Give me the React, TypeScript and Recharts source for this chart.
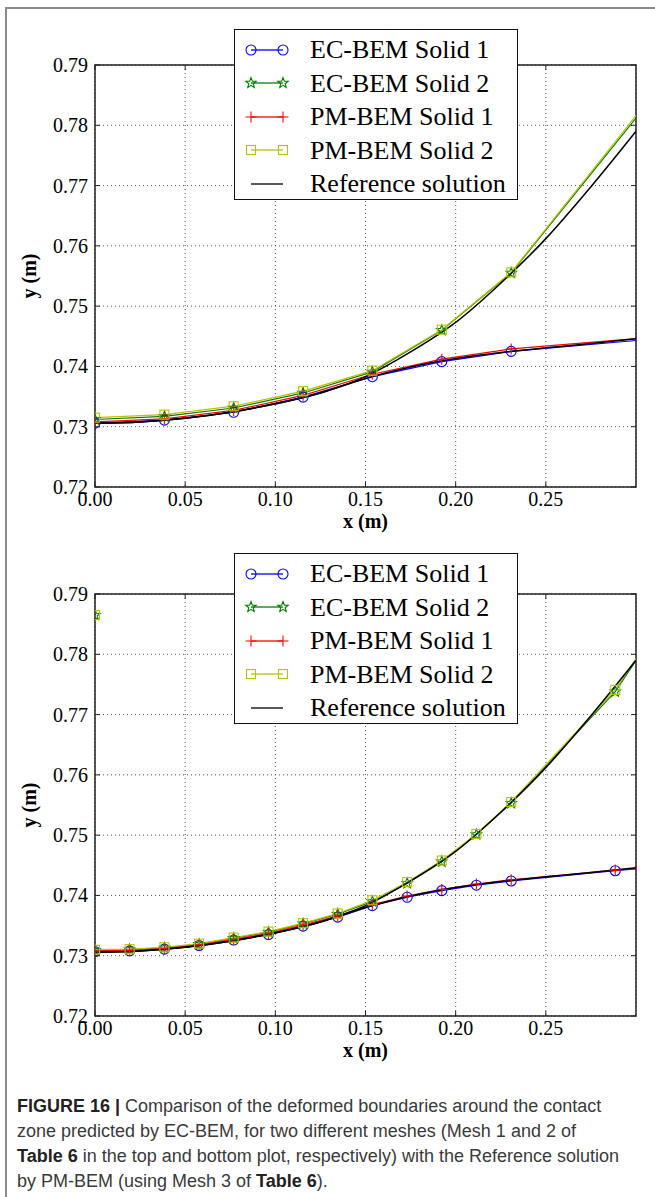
import React from "react";
import {
  ComposedChart,
  Line,
  Scatter,
  XAxis,
  YAxis,
  CartesianGrid,
  ReferenceArea,
} from "recharts";

// axis ticks
const X_TICKS = [0, 0.05, 0.1, 0.15, 0.2, 0.25];
const Y_TICKS = [0.72, 0.73, 0.74, 0.75, 0.76, 0.77, 0.78, 0.79];

// Mesh 1 (top plot) - last vertex has no marker
const MESH1_X = [0, 0.0385, 0.0769, 0.1154, 0.1538, 0.1923, 0.2308, 0.3];
const MESH1_EC_S1 = [0.7306, 0.7311, 0.7324, 0.7349, 0.7383, 0.7408, 0.7425, 0.7443];
const MESH1_EC_S2 = [0.7312, 0.7317, 0.7331, 0.7356, 0.7391, 0.746, 0.7555, 0.7812];
const MESH1_PM_S1 = [0.7308, 0.7313, 0.7327, 0.7352, 0.7387, 0.7412, 0.7429, 0.7446];
const MESH1_PM_S2 = [0.7315, 0.732, 0.7334, 0.7359, 0.7393, 0.7461, 0.7556, 0.7816];

// Mesh 2 (bottom plot) - last vertex has no marker
const MESH2_X = [
  0, 0.0192, 0.0385, 0.0577, 0.0769, 0.0962, 0.1154, 0.1346, 0.1538, 0.1731,
  0.1923, 0.2115, 0.2308, 0.2885, 0.3,
];
const MESH2_EC_S1 = [
  0.7307, 0.7308, 0.7311, 0.7317, 0.7326, 0.7335, 0.7349, 0.7364, 0.7383,
  0.7397, 0.7408, 0.7417, 0.7424, 0.7441, 0.7444,
];
const MESH2_EC_S2 = [
  0.7309, 0.731, 0.7313, 0.7319, 0.7329, 0.7339, 0.7353, 0.7369, 0.739, 0.742,
  0.7456, 0.7501, 0.7553, 0.7738, 0.779,
];
const MESH2_PM_S1 = [
  0.7308, 0.7309, 0.7312, 0.7318, 0.7327, 0.7337, 0.7351, 0.7366, 0.7385,
  0.7399, 0.741, 0.7419, 0.7426, 0.7442, 0.7445,
];
const MESH2_PM_S2 = [
  0.731, 0.7311, 0.7314, 0.732, 0.733, 0.734, 0.7354, 0.737, 0.7392, 0.7422,
  0.7458, 0.7502, 0.7555, 0.7741, 0.7793,
];
// lone Solid 2 node showing in the bottom plot
const MESH2_S2_STRAY_X = [0];
const MESH2_S2_STRAY_Y = [0.7865];

// Reference solution (PM-BEM, Mesh 3)
const REF_X = [0, 0.025, 0.05, 0.075, 0.1, 0.125, 0.15, 0.175, 0.2, 0.225, 0.25, 0.275, 0.3];
const REF_S1 = [0.7306, 0.7308, 0.7314, 0.7324, 0.7338, 0.7356, 0.738, 0.7399, 0.7413, 0.7423, 0.7431, 0.7438, 0.7446];
const REF_S2 = [0.7306, 0.7308, 0.7314, 0.7324, 0.7338, 0.7356, 0.7383, 0.7424, 0.7473, 0.7538, 0.7612, 0.7698, 0.779];

const SERIES = [
  { name: "EC-BEM Solid 1", color: "#0000ff", marker: "circle" },
  { name: "EC-BEM Solid 2", color: "#008000", marker: "star" },
  { name: "PM-BEM Solid 1", color: "#ff0000", marker: "plus" },
  { name: "PM-BEM Solid 2", color: "#bfbf00", marker: "square" },
  { name: "Reference solution", color: "#000000", marker: "none" },
];

const SERIF = '"Liberation Serif", "Times New Roman", serif';
const PLOT_H = 422;
const PLOT_W = 541;

const zip = (xs: number[], ys: number[]) => xs.map((x, i) => ({ x, y: ys[i] }));

const starPath = (cx: number, cy: number, r: number) => {
  let d = "";
  for (let i = 0; i < 10; i++) {
    const rad = i % 2 === 0 ? r : r * 0.42;
    const a = -Math.PI / 2 + (i * Math.PI) / 5;
    d += `${i === 0 ? "M" : "L"}${cx + rad * Math.cos(a)},${cy + rad * Math.sin(a)}`;
  }
  return d + "Z";
};

function Marker({ kind, cx, cy, color }: { kind: string; cx: number; cy: number; color: string }) {
  if (kind === "circle")
    return <circle cx={cx} cy={cy} r={5} fill="none" stroke={color} strokeWidth={1.1} />;
  if (kind === "square")
    return <rect x={cx - 4.5} y={cy - 4.5} width={9} height={9} fill="none" stroke={color} strokeWidth={1.1} />;
  if (kind === "plus")
    return <path d={`M${cx - 5.5},${cy}H${cx + 5.5}M${cx},${cy - 5.5}V${cy + 5.5}`} stroke={color} strokeWidth={1.1} />;
  if (kind === "star")
    return <path d={starPath(cx, cy, 5.5)} fill="none" stroke={color} strokeWidth={1.1} />;
  return null;
}

const XTick = (props: any) => {
  const { x, y, payload } = props;
  return (
    <g>
      <line x1={x} x2={x} y1={y} y2={y - 5} stroke="#222" />
      <line x1={x} x2={x} y1={y - PLOT_H} y2={y - PLOT_H + 5} stroke="#222" />
      <text x={x} y={y + 19} textAnchor="middle" fontFamily={SERIF} fontSize={20} fill="#000">
        {payload.value.toFixed(2)}
      </text>
    </g>
  );
};

const YTick = (props: any) => {
  const { x, y, payload } = props;
  return (
    <g>
      <line x1={x} x2={x + 5} y1={y} y2={y} stroke="#222" />
      <line x1={x + PLOT_W} x2={x + PLOT_W - 5} y1={y} y2={y} stroke="#222" />
      <text x={x - 7} y={y + 7} textAnchor="end" fontFamily={SERIF} fontSize={20} fill="#000">
        {payload.value.toFixed(2)}
      </text>
    </g>
  );
};

const XLabel = (props: any) => {
  const { x, y, width } = props.viewBox;
  return (
    <text x={x + width / 2} y={y + 41} textAnchor="middle" fontFamily={SERIF} fontSize={20} fontWeight="bold">
      x (m)
    </text>
  );
};

const YLabel = (props: any) => {
  const { y, height } = props.viewBox;
  const cx = 36;
  const cy = y + height / 2;
  return (
    <text
      x={cx}
      y={cy}
      textAnchor="middle"
      transform={`rotate(-90 ${cx} ${cy})`}
      fontFamily={SERIF}
      fontSize={20}
      fontWeight="bold"
    >
      y (m)
    </text>
  );
};

function Legend({ top }: { top: number }) {
  return (
    <div
      style={{
        position: "absolute",
        left: 234,
        top,
        width: 284,
        height: 171,
        boxSizing: "border-box",
        border: "1.3px solid #111",
        background: "#fff",
        paddingTop: 3,
      }}
    >
      {SERIES.map((s) => (
        <div key={s.name} style={{ display: "flex", alignItems: "center", height: 33.5 }}>
          <svg width={75} height={20} style={{ flex: "none" }}>
            <line x1={16} x2={48} y1={10} y2={10} stroke={s.color} strokeWidth={1.3} />
            <Marker kind={s.marker} cx={16} cy={10} color={s.color} />
            <Marker kind={s.marker} cx={48} cy={10} color={s.color} />
          </svg>
          <span style={{ fontFamily: SERIF, fontSize: 26, lineHeight: "33px", whiteSpace: "nowrap" }}>
            {s.name}
          </span>
        </div>
      ))}
    </div>
  );
}

function Plot({ xs, values, stray }: { xs: number[]; values: number[][]; stray?: boolean }) {
  const last = xs.length - 1;
  return (
    <ComposedChart width={655} height={560} margin={{ top: 65, right: 19, bottom: 13, left: 35 }}>
      <CartesianGrid stroke="#555" strokeDasharray="1 3" />
      <XAxis
        type="number"
        dataKey="x"
        domain={[0, 0.3]}
        ticks={X_TICKS}
        interval={0}
        allowDataOverflow
        axisLine={false}
        tickLine={false}
        tickSize={0}
        tickMargin={0}
        tick={<XTick />}
        height={60}
        label={XLabel}
      />
      <YAxis
        type="number"
        dataKey="y"
        domain={[0.72, 0.79]}
        ticks={Y_TICKS}
        interval={0}
        allowDataOverflow
        axisLine={false}
        tickLine={false}
        tickSize={0}
        tickMargin={0}
        tick={<YTick />}
        width={60}
        label={YLabel}
      />
      {values.map((ys, k) => {
        const s = SERIES[k];
        return (
          <Line
            key={s.name}
            data={zip(xs, ys)}
            dataKey="y"
            type="linear"
            stroke={s.color}
            strokeWidth={1.2}
            isAnimationActive={false}
            dot={(p: any) =>
              p.index < last ? (
                <Marker key={`d-${k}-${p.index}`} kind={s.marker} cx={p.cx} cy={p.cy} color={s.color} />
              ) : (
                <g key={`d-${k}-${p.index}`} />
              )
            }
            activeDot={false}
          />
        );
      })}
      <Line data={zip(REF_X, REF_S1)} dataKey="y" type="monotone" stroke="#000" strokeWidth={1.5} dot={false} isAnimationActive={false} />
      <Line data={zip(REF_X, REF_S2)} dataKey="y" type="monotone" stroke="#000" strokeWidth={1.5} dot={false} isAnimationActive={false} />
      {stray &&
        [1, 3].map((k) => (
          <Scatter
            key={`stray-${k}`}
            data={zip(MESH2_S2_STRAY_X, MESH2_S2_STRAY_Y)}
            dataKey="y"
            isAnimationActive={false}
            shape={(p: any) => <Marker kind={SERIES[k].marker} cx={p.cx} cy={p.cy} color={SERIES[k].color} />}
          />
        ))}
      <ReferenceArea x1={0} x2={0.3} y1={0.72} y2={0.79} fill="none" stroke="#222" strokeWidth={1.5} />
    </ComposedChart>
  );
}

const CAPTION = [
  [{ b: "FIGURE 16 | " }, { t: "Comparison of the deformed boundaries around the contact" }],
  [{ t: "zone predicted by EC-BEM, for two different meshes (Mesh 1 and 2 of" }],
  [{ b: "Table 6" }, { t: " in the top and bottom plot, respectively) with the Reference solution" }],
  [{ t: "by PM-BEM (using Mesh 3 of " }, { b: "Table 6" }, { t: ")." }],
];

export default function App() {
  return (
    <div style={{ position: "absolute", left: 0, top: 0, width: 655, height: 1197, background: "#fff", overflow: "hidden" }}>
      <div
        style={{
          position: "absolute",
          left: 5,
          top: 7,
          width: 700,
          height: 1250,
          borderLeft: "2px solid #8a8a8a",
          borderTop: "2px solid #8a8a8a",
        }}
      />
      <div style={{ position: "absolute", left: 0, top: 0 }}>
        <Plot xs={MESH1_X} values={[MESH1_EC_S1, MESH1_EC_S2, MESH1_PM_S1, MESH1_PM_S2]} />
      </div>
      <Legend top={29} />
      <div style={{ position: "absolute", left: 0, top: 529 }}>
        <Plot xs={MESH2_X} values={[MESH2_EC_S1, MESH2_EC_S2, MESH2_PM_S1, MESH2_PM_S2]} stray />
      </div>
      <Legend top={553} />
      <div
        style={{
          position: "absolute",
          left: 17,
          top: 1094,
          fontFamily: '"Liberation Sans", Arial, sans-serif',
          fontSize: 18,
          lineHeight: "25px",
          color: "#3a3a3a",
        }}
      >
        {CAPTION.map((line, i) => (
          <div key={i} style={{ whiteSpace: "nowrap" }}>
            {line.map((part, j) =>
              "b" in part ? (
                <b key={j} style={{ color: "#222" }}>{part.b}</b>
              ) : (
                <span key={j}>{part.t}</span>
              )
            )}
          </div>
        ))}
      </div>
    </div>
  );
}
